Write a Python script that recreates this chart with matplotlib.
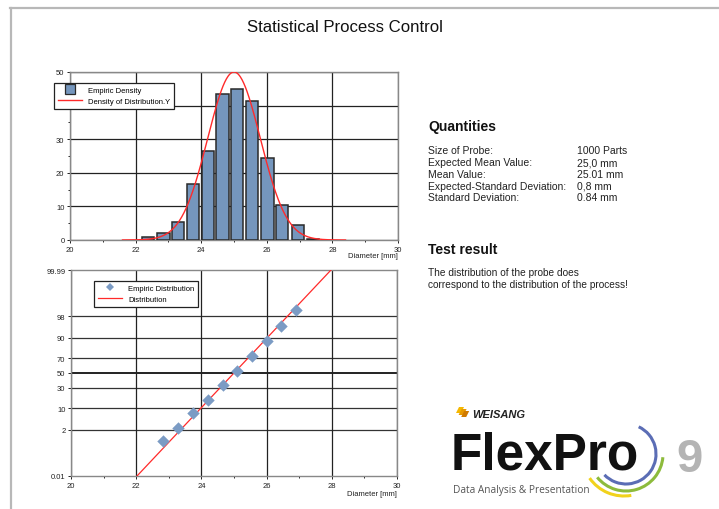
import numpy as np
import matplotlib
matplotlib.use("Agg")
import matplotlib.pyplot as plt
from matplotlib.patches import Arc, Polygon
from matplotlib.lines import Line2D
from matplotlib.ticker import FixedLocator, MultipleLocator
import math

plt.rcParams['font.family'] = ['Liberation Sans', 'DejaVu Sans']

# ---------------- data ----------------
bin_centers = [22.39, 22.85, 23.29, 23.75, 24.21, 24.65, 25.10, 25.56, 26.02, 26.47, 26.94, 27.40]
empiric_density = [0.8, 2.2, 5.5, 16.7, 26.5, 43.4, 44.9, 41.3, 24.5, 10.4, 4.4, 0.2]
dist_mean = 25.0
dist_sd = 0.8
dist_peak = 50.0
curve_range = [21.6, 28.4]

cdf_x = [22.83, 23.29, 23.74, 24.19, 24.65, 25.10, 25.55, 26.00, 26.45, 26.90]
cdf_pct = [0.68, 2.4, 7.3, 16.9, 32.9, 52.4, 72.6, 87.3, 95.5, 98.9]
prob_ticks = [0.01, 2, 10, 30, 50, 70, 90, 98, 99.99]
prob_tick_labels = ["0.01", "2", "10", "30", "50", "70", "90", "98", "99.99"]

quant_labels = ["Size of Probe:", "Expected Mean Value:", "Mean Value:",
                "Expected-Standard Deviation:", "Standard Deviation:"]
quant_values = ["1000 Parts", "25,0 mm", "25.01 mm", "0,8 mm", "0.84 mm"]

# ---------------- helpers ----------------
def norm_ppf(p):
    p = np.asarray(p, dtype=float)
    p = np.clip(p, 1e-12, 1 - 1e-12)
    a = [-3.969683028665376e+01, 2.209460984245205e+02, -2.759285104469687e+02,
         1.383577518672690e+02, -3.066479806614716e+01, 2.506628277459239e+00]
    b = [-5.447609879822406e+01, 1.615858368580409e+02, -1.556989798598866e+02,
         6.680131188771972e+01, -1.328068155288572e+01]
    c = [-7.784894002430293e-03, -3.223964580411365e-01, -2.400758277161838e+00,
         -2.549732539343734e+00, 4.374664141464968e+00, 2.938163982698783e+00]
    d = [7.784695709041462e-03, 3.224671290700398e-01, 2.445134137142996e+00,
         3.754408661907416e+00]
    plow = 0.02425
    out = np.empty_like(p)
    lo = p < plow
    hi = p > 1 - plow
    mid = ~(lo | hi)
    q = np.sqrt(-2 * np.log(p[lo]))
    out[lo] = (((((c[0]*q+c[1])*q+c[2])*q+c[3])*q+c[4])*q+c[5]) / ((((d[0]*q+d[1])*q+d[2])*q+d[3])*q+1)
    q = np.sqrt(-2 * np.log(1 - p[hi]))
    out[hi] = -(((((c[0]*q+c[1])*q+c[2])*q+c[3])*q+c[4])*q+c[5]) / ((((d[0]*q+d[1])*q+d[2])*q+d[3])*q+1)
    q = p[mid] - 0.5
    r = q * q
    out[mid] = (((((a[0]*r+a[1])*r+a[2])*r+a[3])*r+a[4])*r+a[5])*q / (((((b[0]*r+b[1])*r+b[2])*r+b[3])*r+b[4])*r+1)
    return out

_erf = np.vectorize(math.erf)

def norm_cdf(z):
    return 0.5 * (1 + _erf(np.asarray(z, dtype=float) / math.sqrt(2)))

def prob_forward(pct):
    return norm_ppf(np.asarray(pct, dtype=float) / 100.0)

def prob_inverse(z):
    return norm_cdf(z) * 100.0

# ---------------- figure ----------------
W, H = 719, 510
fig = plt.figure(figsize=(W / 100, H / 100), dpi=100)

def px_axes(l, t, r, b, **kw):
    return fig.add_axes([l / W, 1 - b / H, (r - l) / W, (b - t) / H], **kw)

# overlay for frame, text, logo
ov = px_axes(0, 0, W, H)
ov.set_xlim(0, W)
ov.set_ylim(H, 0)
ov.axis('off')
ov.plot([10, W], [9, 9], color='#b8b8b8', lw=1.6)
ov.plot([10.5, 10.5], [9, H], color='#b8b8b8', lw=1.6)

ov.text(345, 28, "Statistical Process Control", ha='center', va='center', fontsize=12.1, color='#111')

ov.text(428, 127, "Quantities", ha='left', va='center', fontsize=10, fontweight='bold', color='#111')
for i, (lab, val) in enumerate(zip(quant_labels, quant_values)):
    y = 151.5 + i * 11.7
    ov.text(428, y, lab, ha='left', va='center', fontsize=7.5, color='#222')
    ov.text(577, y, val, ha='left', va='center', fontsize=7.5, color='#222')
ov.text(428, 250, "Test result", ha='left', va='center', fontsize=10, fontweight='bold', color='#111')
ov.text(428, 273, "The distribution of the probe does", ha='left', va='center', fontsize=7.3, color='#222')
ov.text(428, 285, "correspond to the distribution of the process!", ha='left', va='center', fontsize=7.3, color='#222')

# logo
for k in range(3):
    x0 = 456 + k * 2.6
    y0 = 411 + k * 2.0
    ov.add_patch(Polygon([[x0 + 3, y0 - 3], [x0 + 8, y0 - 3], [x0 + 5, y0 + 3], [x0, y0 + 3]],
                         closed=True, color=['#f5b800', '#e89a00', '#d07a00'][k], lw=0))
ov.text(472, 415, "WEISANG", ha='left', va='center', fontsize=8, fontweight='bold', style='italic', color='#222')
ov.text(451, 470, "FlexPro", ha='left', va='baseline', fontsize=37, fontweight='bold', color='#111')
ov.text(676, 472, "9", ha='left', va='baseline', fontsize=34, fontweight='bold', color='#b4b4b4')
ov.text(453, 491, "Data Analysis & Presentation", ha='left', va='center', fontsize=7.3,
        family=['Open Sans', 'DejaVu Sans'], color='#555')
ov.add_patch(Arc((626, 455), 60, 60, theta1=-65, theta2=136, color='#5b6db5', lw=2.2))
ov.add_patch(Arc((626, 455), 74, 74, theta1=5, theta2=141, color='#8dbb3c', lw=2.2))
ov.add_patch(Arc((624, 455), 84, 84, theta1=80, theta2=145, color='#f1d21c', lw=2.2))

tick_fs = 5.5

# ---------------- top: histogram ----------------
ax1 = px_axes(70, 73, 398, 241)
bin_w = 0.37
ax1.bar(bin_centers, empiric_density, width=bin_w, color='#7596bd', edgecolor='#2a2a2a',
        linewidth=1.1, zorder=3)
xc = np.linspace(curve_range[0], curve_range[1], 400)
yc = dist_peak * np.exp(-0.5 * ((xc - dist_mean) / dist_sd) ** 2)
ax1.plot(xc, yc, color='#ff2a2a', lw=1.0, zorder=4)
ax1.set_xlim(20, 30)
ax1.set_ylim(0, 50)
ax1.xaxis.set_major_locator(MultipleLocator(2))
ax1.xaxis.set_minor_locator(MultipleLocator(1))
ax1.yaxis.set_major_locator(MultipleLocator(10))
ax1.yaxis.set_minor_locator(MultipleLocator(5))
ax1.grid(True, which='major', color='#222', lw=0.9, zorder=1)
ax1.set_axisbelow(True)
ax1.text(1.0, -0.07, "Diameter [mm]", transform=ax1.transAxes, ha='right', va='top', fontsize=5.5, color='#222')
h_bar = Line2D([], [], linestyle='none', marker='s', markersize=6.5, markerfacecolor='#7596bd',
               markeredgecolor='#2a2a2a', markeredgewidth=0.9)
h_line = Line2D([], [], color='#ff2a2a', lw=1.0)
leg1 = ax1.legend([h_bar, h_line], ['Empiric Density', 'Density of Distribution.Y'],
                  loc='upper left', bbox_to_anchor=(50 / W, 1 - 80 / H), bbox_transform=fig.transFigure,
                  fontsize=5.5, frameon=True, fancybox=False, framealpha=1, edgecolor='#222',
                  handlelength=3.2, borderpad=0.5, labelspacing=0.5, handletextpad=0.8)
leg1.get_frame().set_linewidth(0.9)

# ---------------- bottom: probability plot ----------------
ax2 = px_axes(71, 271, 397, 477)
ax2.set_yscale('function', functions=(prob_forward, prob_inverse))
ax2.set_xlim(20, 30)
ax2.set_ylim(0.01, 99.99)
xl = np.linspace(20, 30, 400)
ax2.plot(xl, prob_inverse((xl - dist_mean) / dist_sd), color='#ff2a2a', lw=0.9, zorder=4)
ax2.scatter(cdf_x, cdf_pct, marker='D', s=40, color='#7b9bc4', zorder=5, linewidths=0)
ax2.yaxis.set_major_locator(FixedLocator(prob_ticks))
ax2.set_yticklabels(prob_tick_labels)
ax2.yaxis.set_minor_locator(FixedLocator([]))
ax2.xaxis.set_major_locator(MultipleLocator(2))
ax2.xaxis.set_minor_locator(MultipleLocator(1))
ax2.grid(True, which='major', axis='x', color='#222', lw=0.9, zorder=1)
for p in prob_ticks[1:-1]:
    ax2.axhline(p, color='#111' if p == 50 else '#333', lw=1.3 if p == 50 else 0.9, zorder=1)
ax2.text(1.0, -0.07, "Diameter [mm]", transform=ax2.transAxes, ha='right', va='top', fontsize=5.5, color='#222')
h_pt = Line2D([], [], linestyle='none', marker='D', markersize=4.5, markerfacecolor='#7b9bc4',
              markeredgewidth=0)
h_dist = Line2D([], [], color='#ff2a2a', lw=0.9)
leg2 = ax2.legend([h_pt, h_dist], ['Empiric Distribution', 'Distribution'], loc='upper left',
                  bbox_to_anchor=(90 / W, 1 - 278 / H),
                  bbox_transform=fig.transFigure, fontsize=5.5, frameon=True, fancybox=False,
                  framealpha=1, edgecolor='#222', handlelength=3.2, borderpad=0.5,
                  labelspacing=0.45, handletextpad=0.8)
leg2.get_frame().set_linewidth(0.9)

for ax in (ax1, ax2):
    for s in ax.spines.values():
        s.set_color('#888')
        s.set_linewidth(1.0)
    ax.tick_params(labelsize=tick_fs, colors='#222', length=2.5, width=0.7, pad=1.5)
    ax.tick_params(which='minor', length=1.5, width=0.6)
    ax.set_facecolor('none')

fig.savefig("out.png", dpi=100)
